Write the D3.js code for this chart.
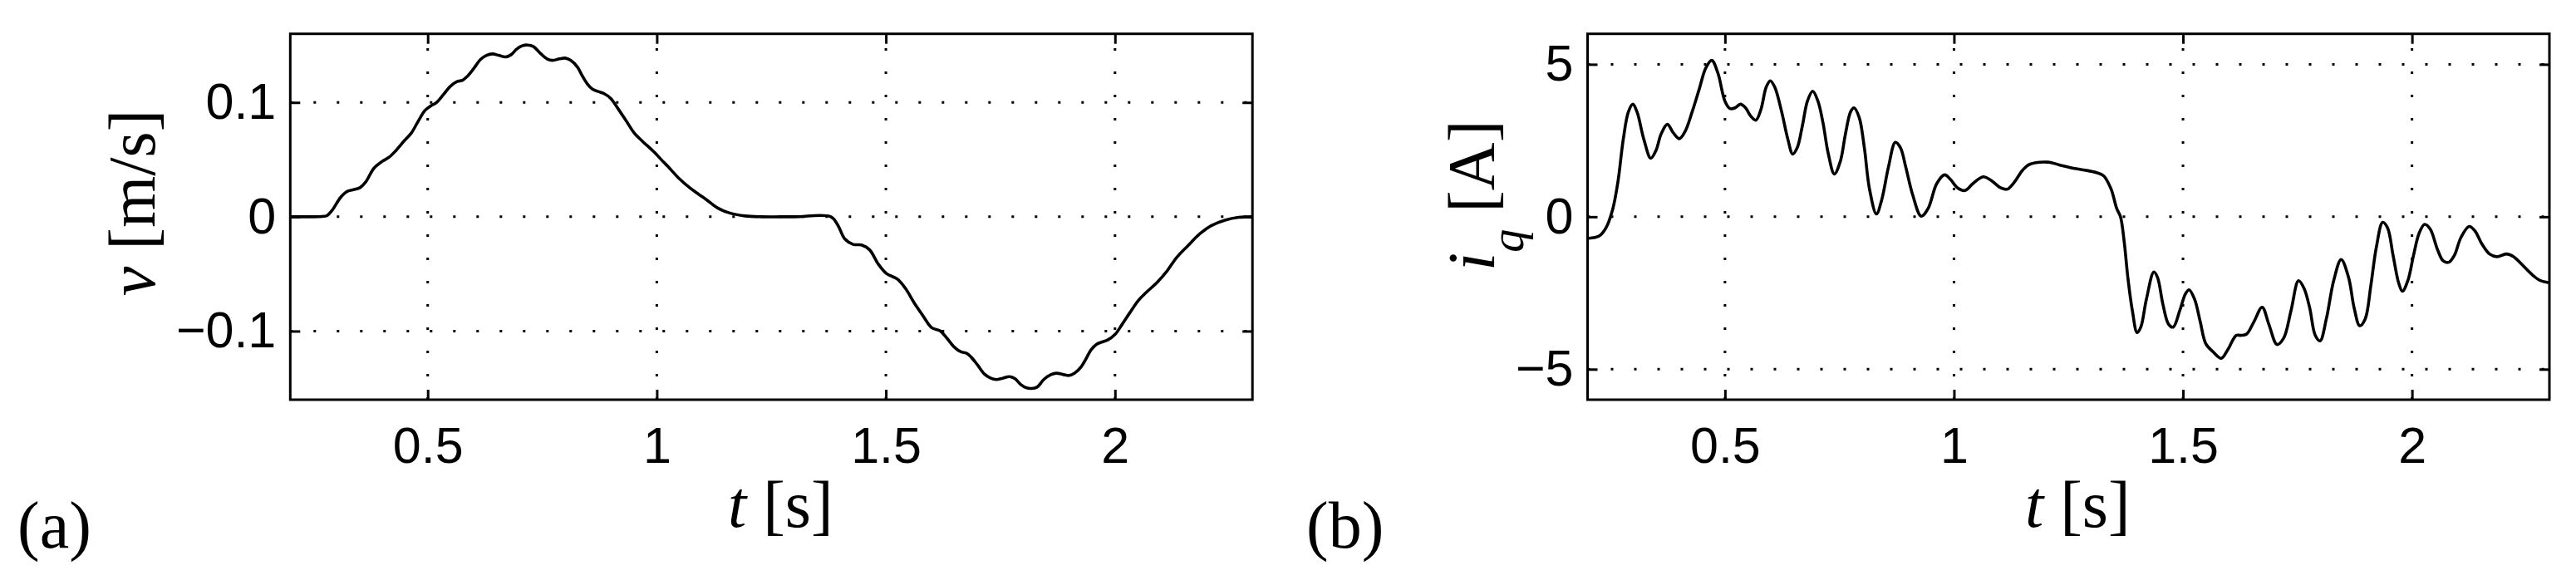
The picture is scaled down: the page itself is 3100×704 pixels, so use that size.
<!DOCTYPE html>
<html>
<head>
<meta charset="utf-8">
<script src="https://cdn.jsdelivr.net/npm/d3@7/dist/d3.min.js"></script>
<style>
  html, body { margin: 0; padding: 0; background: #fff; }
  svg { display: block; }
</style>
</head>
<body>
<svg id="chart" width="3100" height="704"></svg>
<script>
// ---------------- DATA ----------------
const xTicks = [0.5, 1, 1.5, 2];
const vTicks = [-0.1, 0, 0.1];
const iTicks = [-5, 0, 5];

// panel (a): velocity v [m/s] vs time t [s]
const tVel = [0.20, 0.27, 0.28, 0.292, 0.310, 0.325, 0.340, 0.352, 0.3645, 0.3826, 0.4008, 0.4158, 0.431, 0.449, 0.4642,
  0.4793, 0.4945, 0.5065, 0.5186, 0.5337, 0.5489, 0.564, 0.5761, 0.5852, 0.6003, 0.6153, 0.6275, 0.6414, 0.6547, 0.6697,
  0.6819, 0.694, 0.706, 0.7181, 0.7303, 0.7453, 0.7604, 0.7725, 0.7876, 0.7997, 0.8119, 0.827, 0.836, 0.8482, 0.8602,
  0.8723, 0.8844, 0.8995, 0.9146, 0.9327, 0.9508, 0.969, 0.9933, 1.0143, 1.0234, 1.0476, 1.0718, 1.09, 1.1081, 1.1322,
  1.1565, 1.1928, 1.229, 1.30, 1.38, 1.3951, 1.4104, 1.4285, 1.4467, 1.4648, 1.483, 1.5011, 1.5252, 1.5433, 1.5615,
  1.58, 1.60, 1.6186, 1.634, 1.649, 1.664, 1.676, 1.685, 1.700, 1.715, 1.728, 1.741, 1.755, 1.770, 1.782, 1.794, 1.806,
  1.818, 1.830, 1.845, 1.860, 1.872, 1.888, 1.900, 1.912, 1.927, 1.936, 1.948, 1.960, 1.972, 1.984, 2.000, 2.015, 2.033,
  2.051, 2.069, 2.093, 2.114, 2.135, 2.160, 2.185, 2.21, 2.24, 2.27, 2.30];
const vel = [0, 0.0003, 0.001, 0.006, 0.017, 0.0223, 0.0238, 0.0254, 0.0303, 0.0424, 0.0485, 0.0521, 0.0581, 0.0666, 0.0732,
  0.0836, 0.0932, 0.0969, 0.0998, 0.1066, 0.1139, 0.1182, 0.1194, 0.1223, 0.1296, 0.1376, 0.141, 0.1424, 0.1412, 0.1398,
  0.1417, 0.1466, 0.1495, 0.1502, 0.149, 0.1432, 0.1381, 0.1368, 0.1381, 0.1388, 0.1368, 0.1308, 0.1242, 0.1163, 0.1114,
  0.1095, 0.1078, 0.1035, 0.095, 0.0842, 0.0732, 0.0659, 0.0569, 0.048, 0.0444, 0.0339, 0.0254, 0.020, 0.015, 0.0078,
  0.0036, 0.0007, 0, 0, 0, -0.0073, -0.0194, -0.0242, -0.0247, -0.0291, -0.0412, -0.0496, -0.0545, -0.063, -0.0751,
  -0.086, -0.097, -0.0998, -0.1066, -0.1139, -0.1182, -0.1194, -0.1223, -0.1296, -0.1376, -0.141, -0.1424, -0.1412, -0.1398, -0.1417, -0.1466, -0.1495,
  -0.1502, -0.149, -0.1422, -0.1381, -0.1368, -0.1381, -0.1388, -0.1368, -0.1308, -0.1248, -0.1163, -0.1114, -0.1095, -0.1078, -0.103, -0.0945, -0.0836,
  -0.0732, -0.0659, -0.0569, -0.0472, -0.0354, -0.025, -0.015, -0.0078, -0.003, -0.0005, 0];

// panel (b): q-axis current i_q [A] vs time t [s]
const tCur = [0.2025, 0.2252, 0.2403, 0.2553, 0.2666, 0.2779, 0.2891, 0.2989, 0.308, 0.323, 0.338, 0.3493, 0.3606, 0.3742,
  0.3869, 0.4005, 0.4132, 0.4283, 0.4433, 0.4583, 0.4712, 0.4847, 0.4997, 0.511, 0.5223, 0.5336, 0.5449, 0.5562, 0.5674,
  0.5787, 0.59, 0.599, 0.6087, 0.6238, 0.6374, 0.6479, 0.6577, 0.669, 0.6802, 0.6915, 0.7028, 0.7141, 0.7254, 0.7389,
  0.7517, 0.763, 0.7742, 0.7818, 0.7931, 0.8043, 0.8156, 0.8307, 0.842, 0.8569, 0.872, 0.8832, 0.8947, 0.9097, 0.9284,
  0.9435, 0.9623, 0.9796, 0.9925, 1.0075, 1.0241, 1.0413, 1.0638, 1.0826, 1.1015, 1.1165, 1.1316, 1.1503, 1.165, 1.2055,
  1.2298, 1.2541, 1.2824, 1.3109, 1.327, 1.3431, 1.3553, 1.3635, 1.3716, 1.3796, 1.3894, 1.3999, 1.4079, 1.42, 1.4364,
  1.4444, 1.4565, 1.4687, 1.4785, 1.493, 1.5052, 1.5133, 1.5255, 1.5376, 1.5498, 1.5659, 1.5837, 1.5984, 1.6162, 1.6267,
  1.6389, 1.655, 1.6728, 1.6875, 1.7053, 1.7198, 1.7359, 1.7523, 1.7644, 1.7766, 1.7887, 1.7992, 1.813, 1.8292, 1.8453,
  1.8615, 1.8736, 1.8858, 1.8979, 1.9101, 1.9222, 1.936, 1.9466, 1.9587, 1.9709, 1.979, 1.9912, 2.0033, 2.0155, 2.0276,
  2.0398, 2.0559, 2.0681, 2.0802, 2.0924, 2.1069, 2.1247, 2.1369, 2.1531, 2.1692, 2.1855, 2.2058, 2.222, 2.2381, 2.2624,
  2.2786, 2.2948, 2.30];
const cur = [-0.706, -0.633, -0.362, 0.271, 1.177, 2.534, 3.439, 3.692, 3.439, 2.534, 1.918, 2.172, 2.714, 3.031,
  2.76, 2.56, 2.805, 3.439, 4.162, 4.886, 5.13, 4.705, 3.80, 3.547, 3.574, 3.692, 3.574, 3.303, 3.167,
  3.529, 4.253, 4.46, 4.253, 3.439, 2.534, 2.055, 2.262, 2.986, 3.80, 4.117, 3.80, 3.076, 2.081, 1.402,
  1.81, 2.714, 3.439, 3.574, 3.257, 2.262, 0.905, 0.09, 0.543, 1.629, 2.443, 2.262, 1.629, 0.725, 0.019,
  0.271, 1.086, 1.376, 1.221, 0.95, 0.86, 1.086, 1.311, 1.177, 0.95, 0.905, 1.131, 1.538, 1.719, 1.792,
  1.701, 1.611, 1.538, 1.448, 1.339, 0.905, 0.271, 0, -0.814, -1.99, -3.075, -3.80, -3.62, -2.714, -1.81,
  -1.99, -2.896, -3.529, -3.62, -3.075, -2.533, -2.397, -2.714, -3.439, -4.162, -4.433, -4.642, -4.343, -3.89, -3.89,
  -3.846, -3.439, -2.967, -3.529, -4.189, -3.98, -3.075, -2.098, -2.353, -2.986, -3.89, -4.072, -3.347, -2.082, -1.403,
  -1.99, -2.986, -3.575, -3.347, -2.261, -0.996, -0.182, -0.361, -1.268, -2.172, -2.443, -2.082, -1.268, -0.543, -0.252,
  -0.407, -1.086, -1.447, -1.493, -1.268, -0.679, -0.318, -0.453, -0.904, -1.221, -1.311, -1.221, -1.311, -1.539, -1.90,
  -2.082, -2.153, -2.16];

// ---------------- DRAWING ----------------
const svg = d3.select("#chart");
const tickFont = "'Liberation Sans', Arial, Helvetica, sans-serif";
const labelFont = "'Liberation Serif', 'Times New Roman', Times, serif";

const plotTop = 40.7, plotBottom = 481;
const tickLen = 12;

function drawPanel(opts) {
  const x = d3.scaleLinear().domain([0.2, 2.3]).range([opts.left, opts.right]);
  const y = d3.scaleLinear().domain(opts.yDomain).range([plotBottom, plotTop]);
  const g = svg.append("g");

  // grid (dotted)
  const grid = g.append("g").attr("stroke", "#000").attr("stroke-width", 3).attr("stroke-dasharray", "3,25");
  opts.yTicks.forEach(v => {
    grid.append("line").attr("x1", x.range()[0]).attr("x2", x.range()[1]).attr("y1", y(v)).attr("y2", y(v));
  });
  xTicks.forEach(v => {
    grid.append("line").attr("x1", x(v)).attr("x2", x(v)).attr("y1", plotBottom).attr("y2", plotTop);
  });

  // curve
  const line = d3.line().x(d => x(d[0])).y(d => y(d[1])).curve(d3.curveCatmullRom.alpha(0.5));
  const pts = opts.t.map((t, k) => [t, opts.v[k]]);
  g.append("path").datum(pts).attr("d", line).attr("fill", "none").attr("stroke", "#000")
    .attr("stroke-width", 3.6).attr("stroke-linejoin", "round");

  // axes
  const fmt = d3.format("");
  const axB = g.append("g").attr("transform", `translate(0,${plotBottom})`)
    .call(d3.axisBottom(x).tickValues(xTicks).tickSize(-tickLen).tickSizeOuter(0).tickPadding(32.4).tickFormat(fmt));
  const axT = g.append("g").attr("transform", `translate(0,${plotTop})`)
    .call(d3.axisTop(x).tickValues(xTicks).tickSize(-tickLen).tickSizeOuter(0).tickFormat(""));
  const axL = g.append("g").attr("transform", `translate(${opts.left},0)`)
    .call(d3.axisLeft(y).tickValues(opts.yTicks).tickSize(-tickLen).tickSizeOuter(0).tickPadding(17).tickFormat(fmt));
  const axR = g.append("g").attr("transform", `translate(${opts.right},0)`)
    .call(d3.axisRight(y).tickValues(opts.yTicks).tickSize(-tickLen).tickSizeOuter(0).tickFormat(""));
  [axB, axT, axL, axR].forEach(a => {
    a.select(".domain").remove();
    a.selectAll(".tick line").attr("stroke", "#000").attr("stroke-width", 3);
    a.selectAll("text").attr("font-family", tickFont).attr("font-size", 61).attr("fill", "#000");
  });

  // box
  g.append("rect").attr("x", opts.left).attr("y", plotTop)
    .attr("width", opts.right - opts.left).attr("height", plotBottom - plotTop)
    .attr("fill", "none").attr("stroke", "#000").attr("stroke-width", 3);

  // x label
  const xl = g.append("text").attr("x", (opts.left + opts.right) / 2 + 11).attr("y", 634)
    .attr("text-anchor", "middle").attr("font-family", labelFont).attr("font-size", 80).attr("fill", "#000");
  xl.append("tspan").attr("font-style", "italic").text("t");
  xl.append("tspan").text(" [s]");

  // panel letter
  g.append("text").attr("x", opts.letterX).attr("y", 659).attr("font-family", labelFont)
    .attr("font-size", 80).attr("fill", "#000").text(opts.letter);

  return g;
}

drawPanel({ left: 349.3, right: 1507.2, yDomain: [-0.16, 0.16], yTicks: vTicks, t: tVel, v: vel, letter: "(a)", letterX: 21 });
drawPanel({ left: 1910.5, right: 3068, yDomain: [-6, 6], yTicks: iTicks, t: tCur, v: cur, letter: "(b)", letterX: 1572 });

// y labels
const yl1 = svg.append("text").attr("transform", "translate(186,244) rotate(-90)")
  .attr("text-anchor", "middle").attr("font-family", labelFont).attr("font-size", 80).attr("fill", "#000");
yl1.append("tspan").attr("font-style", "italic").text("v");
yl1.append("tspan").text(" [m/s]");

const yl2 = svg.append("text").attr("transform", "translate(1797.5,326) rotate(-90)")
  .attr("text-anchor", "start").attr("font-family", labelFont).attr("font-size", 80).attr("fill", "#000");
yl2.append("tspan").attr("font-style", "italic").text("i");
yl2.append("tspan").attr("font-style", "italic").attr("font-size", 56).attr("dy", 35).text("q");
yl2.append("tspan").attr("dy", -35).text(" [A]");
</script>
</body>
</html>
